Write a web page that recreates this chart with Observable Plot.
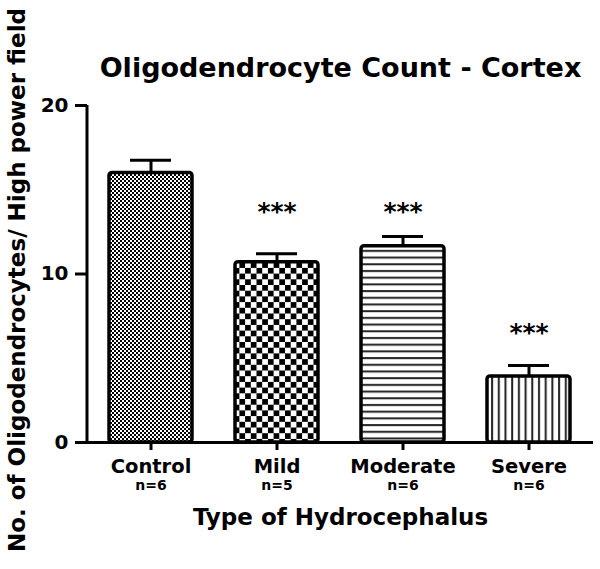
<!DOCTYPE html>
<html>
<head>
<meta charset="utf-8">
<script src="https://cdn.jsdelivr.net/npm/d3@7"></script>
<script src="https://cdn.jsdelivr.net/npm/@observablehq/plot@0.6"></script>
<style>
  html, body { margin: 0; padding: 0; background: #fff; }
  svg { font-family: "DejaVu Sans", sans-serif; }
  g[aria-label="y-axis tick"], g[aria-label="x-axis tick"] { stroke-width: 3px; stroke: #000; }
</style>
</head>
<body>
<div id="chart"></div>
<script>
// ---- data ----
const categories = ["Control", "Mild", "Moderate", "Severe"];
const nLabels = ["n=6", "n=5", "n=6", "n=6"];
const means = [16.0, 10.7, 11.65, 3.92];
const sems = [0.75, 0.5, 0.58, 0.65];
const starCats = ["Mild", "Moderate", "Severe"];
const starY = [13.65, 13.65, 6.47];
const patterns = ["url(#pFine)", "url(#pCheck)", "url(#pHoriz)", "url(#pVert)"];
const yTicks = [0, 10, 20];
const title = "Oligodendrocyte Count - Cortex";
const xTitle = "Type of Hydrocephalus";
const yTitle = "No. of Oligodendrocytes/ High power field";

const rows = categories.map((c, i) => ({cat: c, n: nLabels[i], mean: means[i], top: means[i] + sems[i], pat: patterns[i]}));
const stars = starCats.map((c, i) => ({cat: c, y: starY[i]}));

const chart = Plot.plot({
  width: 600,
  height: 569,
  marginLeft: 87,
  marginRight: 7,
  marginTop: 105,
  marginBottom: 127,
  style: {fontFamily: "DejaVu Sans, sans-serif", fontWeight: "bold", background: "#fff"},
  x: {domain: categories, paddingInner: 0.34, paddingOuter: 0.17, axis: null},
  y: {domain: [0, 20], axis: null},
  color: {type: "identity"},
  marks: [
    Plot.barY(rows, {x: "cat", y: "mean", fill: "pat", stroke: "#000", strokeWidth: 3.5, rx: 3}),
    Plot.ruleX(rows, {x: "cat", y1: "mean", y2: "top", stroke: "#000", strokeWidth: 3}),
    Plot.tickY(rows, {x: "cat", y: "top", stroke: "#000", strokeWidth: 3, insetLeft: 21, insetRight: 21}),
    // axes
    Plot.ruleY([0], {stroke: "#000", strokeWidth: 3}),
    Plot.axisY({ticks: yTicks, tickSize: 12, tickPadding: 7, strokeWidth: 3, stroke: "#000", fill: "#000", fontSize: 20, fontWeight: "bold", label: null, tickFormat: d => d}),
    Plot.axisX({tickSize: 8, strokeWidth: 3, stroke: "#000", tickFormat: () => "", label: null}),
    // category labels
    Plot.text(rows, {x: "cat", text: "cat", frameAnchor: "bottom", lineAnchor: "middle", dy: 24, fontSize: 19.5, fontWeight: "bold", fill: "#000"}),
    Plot.text(rows, {x: "cat", text: "n", frameAnchor: "bottom", lineAnchor: "middle", dy: 43, fontSize: 14, fontWeight: "bold", fill: "#000"}),
    // stars
    Plot.text(stars, {x: "cat", y: "y", text: () => "***", fontSize: 25, fontWeight: "bold", fill: "#000", lineAnchor: "middle"}),
    // titles
    Plot.text([title], {frameAnchor: "top", lineAnchor: "middle", dy: -37, fontSize: 27, fontWeight: "bold", fill: "#000"}),
    Plot.text([xTitle], {frameAnchor: "bottom", lineAnchor: "middle", dy: 75, fontSize: 23, fontWeight: "bold", fill: "#000"}),
    Plot.text([yTitle], {frameAnchor: "left", textAnchor: "middle", lineAnchor: "middle", dx: -70, dy: 6, rotate: -90, fontSize: 23, fontWeight: "bold", fill: "#000"})
  ]
});

const svg = d3.select(chart);

// y axis line, from the plot's own y scale
const ys = chart.scale("y");
const xs = chart.scale("x");
const xLeft = xs.range[0];
svg.append("line")
  .attr("x1", xLeft).attr("x2", xLeft)
  .attr("y1", ys.range[0] + 1.5).attr("y2", ys.range[1])
  .attr("stroke", "#000").attr("stroke-width", 3);

// patterns
const defs = svg.insert("defs", ":first-child");
const pFine = defs.append("pattern").attr("id", "pFine").attr("patternUnits", "userSpaceOnUse").attr("width", 4).attr("height", 4);
pFine.append("rect").attr("width", 4).attr("height", 4).attr("fill", "#fff");
pFine.append("rect").attr("width", 2).attr("height", 2).attr("fill", "#000");
pFine.append("rect").attr("x", 2).attr("y", 2).attr("width", 2).attr("height", 2).attr("fill", "#000");
const pCheck = defs.append("pattern").attr("id", "pCheck").attr("patternUnits", "userSpaceOnUse").attr("width", 11.4).attr("height", 11.4);
pCheck.append("rect").attr("width", 11.4).attr("height", 11.4).attr("fill", "#fff");
pCheck.append("rect").attr("width", 5.7).attr("height", 5.7).attr("fill", "#000");
pCheck.append("rect").attr("x", 5.7).attr("y", 5.7).attr("width", 5.7).attr("height", 5.7).attr("fill", "#000");
const pHoriz = defs.append("pattern").attr("id", "pHoriz").attr("patternUnits", "userSpaceOnUse").attr("width", 10).attr("height", 6.7);
pHoriz.append("rect").attr("width", 10).attr("height", 6.7).attr("fill", "#fff");
pHoriz.append("rect").attr("y", 2).attr("width", 10).attr("height", 2).attr("fill", "#222");
const pVert = defs.append("pattern").attr("id", "pVert").attr("patternUnits", "userSpaceOnUse").attr("width", 6.7).attr("height", 10);
pVert.append("rect").attr("width", 6.7).attr("height", 10).attr("fill", "#fff");
pVert.append("rect").attr("x", 2).attr("width", 2).attr("height", 10).attr("fill", "#222");

document.getElementById("chart").appendChild(chart);
</script>
</body>
</html>
